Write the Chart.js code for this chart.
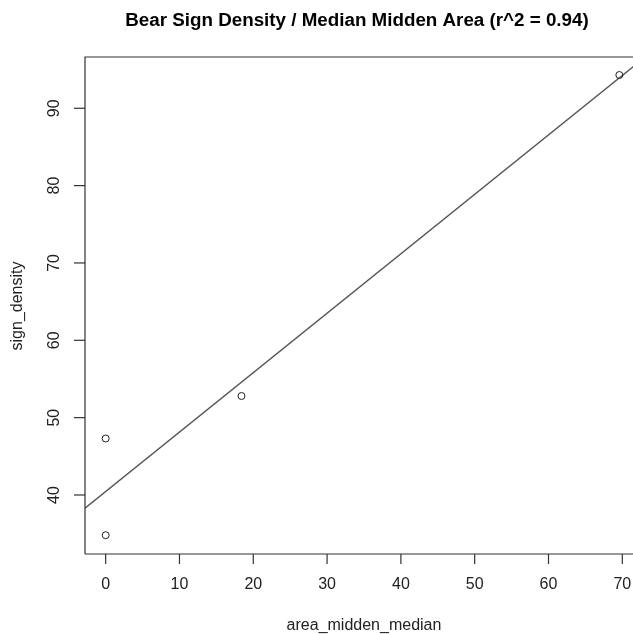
<!DOCTYPE html>
<html>
<head>
<meta charset="utf-8">
<script src="https://cdn.jsdelivr.net/npm/chart.js@4"></script>
<style>
  body { margin: 0; background: #fff; }
</style>
</head>
<body>
<canvas id="plot" width="633" height="634"></canvas>
<script>
// datos
const areaMiddenMedian = [0, 0, 18.4, 69.6];
const signDensity = [47.3, 34.8, 52.8, 94.3];
// recta de ajuste (extremos en el borde del panel)
const fitX = [-2.8, 71.5];
const fitY = [38.3, 95.4];
const xTicks = [0, 10, 20, 30, 40, 50, 60, 70];
const yTicks = [40, 50, 60, 70, 80, 90];

const titleText = 'Bear Sign Density / Median Midden Area (r^2 = 0.94)';
const xTitle = 'area_midden_median';
const yTitle = 'sign_density';

const font = '"Liberation Sans", Arial, Helvetica, sans-serif';

// ejes estilo R dibujados a mano sobre las escalas de Chart.js
const rAxes = {
    id: 'rAxes',
    afterDraw(chart) {
        const c = chart.ctx;
        const a = chart.chartArea;
        const xs = chart.scales.x, ys = chart.scales.y;
        c.save();
        c.strokeStyle = '#333';
        c.lineWidth = 1.2;
        // caja
        c.beginPath();
        c.moveTo(a.left, a.bottom);
        c.lineTo(a.left, a.top);
        c.lineTo(a.right + 2, a.top);
        c.moveTo(a.left, a.bottom);
        c.lineTo(a.right + 2, a.bottom);
        c.stroke();

        c.fillStyle = '#222';
        c.font = '16px ' + font;
        c.textAlign = 'center';
        c.textBaseline = 'middle';
        // eje x
        xTicks.forEach(v => {
            const px = xs.getPixelForValue(v);
            c.beginPath();
            c.moveTo(px, a.bottom);
            c.lineTo(px, a.bottom + 10);
            c.stroke();
            c.fillText(String(v), px, a.bottom + 31);
        });
        // eje y (etiquetas giradas)
        yTicks.forEach(v => {
            const py = ys.getPixelForValue(v);
            c.beginPath();
            c.moveTo(a.left, py);
            c.lineTo(a.left - 11, py);
            c.stroke();
            c.save();
            c.translate(a.left - 30, py);
            c.rotate(-Math.PI / 2);
            c.fillText(String(v), 0, 0);
            c.restore();
        });
        // titulos
        c.fillText(xTitle, 364, 626);
        c.save();
        c.translate(18, 306);
        c.rotate(-Math.PI / 2);
        c.fillText(yTitle, 0, 0);
        c.restore();
        c.font = 'bold 18.8px ' + font;
        c.fillStyle = '#000';
        c.fillText(titleText, 357, 21);
        c.restore();
    }
};

const ctx = document.getElementById('plot').getContext('2d');
const chart = new Chart(ctx, {
    type: 'scatter',
    data: {
        datasets: [{
            label: 'fit',
            data: fitX.map((x, i) => ({ x: x, y: fitY[i] })),
            showLine: true,
            pointRadius: 0,
            borderColor: '#555',
            borderWidth: 1.3,
            order: 2
        }, {
            label: 'obs',
            data: areaMiddenMedian.map((x, i) => ({ x: x, y: signDensity[i] })),
            pointRadius: 3.5,
            pointBackgroundColor: 'rgba(0,0,0,0)',
            pointBorderColor: '#222',
            pointBorderWidth: 1,
            order: 1
        }]
    },
    options: {
        responsive: false,
        animation: false,
        layout: { autoPadding: false, padding: { left: 85, right: 0, top: 57, bottom: 80 } },
        plugins: { legend: { display: false }, tooltip: { enabled: false } },
        scales: {
            x: { type: 'linear', display: false, min: -2.8, max: 71.45 },
            y: { type: 'linear', display: false, min: 32.37, max: 96.63 }
        }
    },
    plugins: [rAxes]
});
</script>
</body>
</html>
